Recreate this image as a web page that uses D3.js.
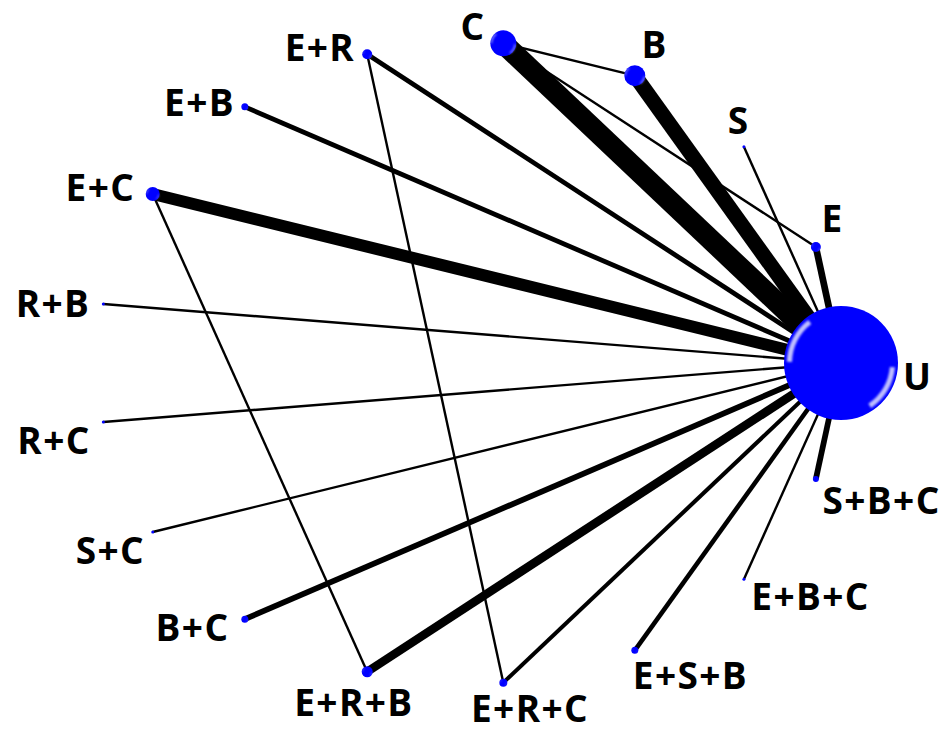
<!DOCTYPE html>
<html>
<head>
<meta charset="utf-8">
<script src="https://cdn.jsdelivr.net/npm/d3@7"></script>
<style>
  html, body { margin: 0; padding: 0; background: #ffffff; }
  svg { display: block; }
  .label { font-family: "Open Sans", "Noto Sans", sans-serif; font-weight: 700; fill: #000; letter-spacing: 1.4px; }
</style>
</head>
<body>
<svg id="chart" width="943" height="733"></svg>
<script>
// Treatments, in order around the network (counter-clockwise from U)
const treatments = ["U", "E", "S", "B", "C", "E+R", "E+B", "E+C", "R+B", "R+C",
                    "S+C", "B+C", "E+R+B", "E+R+C", "E+S+B", "E+B+C", "S+B+C"];

// Relative node weight (drawn as sphere radius)
const nodeWeight = [57, 5, 1.5, 10.5, 13, 5, 3.5, 7, 1.5, 1.5,
                    1.5, 3.5, 5.5, 4, 3.5, 1.5, 3];

// Direct comparisons and number of studies for each
const edgeFrom    = ["U", "U", "U", "U", "U", "U", "U", "U", "U", "U", "U", "U", "U", "U", "U", "U", "C", "C", "E+R", "E+C"];
const edgeTo      = ["E", "S", "B", "C", "E+R", "E+B", "E+C", "R+B", "R+C", "S+C", "B+C", "E+R+B", "E+R+C", "E+S+B", "E+B+C", "S+B+C", "B", "E", "E+R+C", "E+R+B"];
const edgeStudies = [2.8, 1, 6.3, 8.8, 2, 2, 5, 1, 1, 1, 2.4, 3.6, 1.7, 1.9, 1, 2.4, 1, 1, 1, 1];

// Label placement relative to each node (label centre offset)
const labelOffset = {
  "U": [76, 14], "E": [16, -28], "S": [-6, -26], "B": [19, -31], "C": [-31, -16],
  "E+R": [-48, -6], "E+B": [-46, -4], "E+C": [-53, -6], "R+B": [-51, 0], "R+C": [-50, 19],
  "S+C": [-43, 19], "B+C": [-53, 9], "E+R+B": [-14, 31], "E+R+C": [26, 26],
  "E+S+B": [55, 26], "E+B+C": [66, 18], "S+B+C": [65, 22]
};

const svg = d3.select("#chart");
const cx = 469, cy = 363, rx = 372, ry = 321;

// angular position of each treatment
const angle = d3.scaleLinear().domain([0, treatments.length]).range([0, 2 * Math.PI]);
const rScale = d3.scaleLinear().domain([0, 57]).range([0, 57]);
const wScale = d3.scaleLinear().domain([0, 1]).range([0, 2.4]);

const nodes = treatments.map((t, i) => {
  const a = angle(i);
  return { id: t, x: cx + rx * Math.cos(a), y: cy - ry * Math.sin(a), r: rScale(nodeWeight[i]) };
});
const byId = new Map(nodes.map(n => [n.id, n]));
const edges = edgeFrom.map((f, i) => ({ s: byId.get(f), t: byId.get(edgeTo[i]), w: wScale(edgeStudies[i]) }));

const defs = svg.append("defs");
const blur = defs.append("filter").attr("id", "soft").attr("x", "-50%").attr("y", "-50%").attr("width", "200%").attr("height", "200%");
blur.append("feGaussianBlur").attr("stdDeviation", 0.9);

// Comparison lines
svg.append("g").selectAll("line").data(edges).join("line")
  .attr("x1", d => d.s.x).attr("y1", d => d.s.y)
  .attr("x2", d => d.t.x).attr("y2", d => d.t.y)
  .attr("stroke", "#000").attr("stroke-width", d => d.w)
  .attr("stroke-linecap", "butt");

// Treatment spheres
const ng = svg.append("g").selectAll("g").data(nodes).join("g")
  .attr("transform", d => `translate(${d.x},${d.y})`);
ng.append("circle").attr("r", d => d.r).attr("fill", "#0000ff");
const arc = d3.arc();
ng.append("path")
  .attr("d", d => arc({ innerRadius: d.r * 0.86, outerRadius: d.r * 0.95, startAngle: -1.55, endAngle: -0.65 }))
  .attr("fill", "#ffffff").attr("opacity", 0.75).attr("filter", "url(#soft)");
ng.append("path")
  .attr("d", d => arc({ innerRadius: d.r * 0.86, outerRadius: d.r * 0.95, startAngle: 1.65, endAngle: 2.55 }))
  .attr("fill", "#ffffff").attr("opacity", 0.75).attr("filter", "url(#soft)");

// Treatment labels
svg.append("g").selectAll("text").data(nodes).join("text")
  .attr("class", "label")
  .attr("x", d => d.x + labelOffset[d.id][0] + 0.7)
  .attr("y", d => d.y + labelOffset[d.id][1] + 13)
  .attr("text-anchor", "middle")
  .style("font-size", "37px")
  .text(d => d.id);
</script>
</body>
</html>
